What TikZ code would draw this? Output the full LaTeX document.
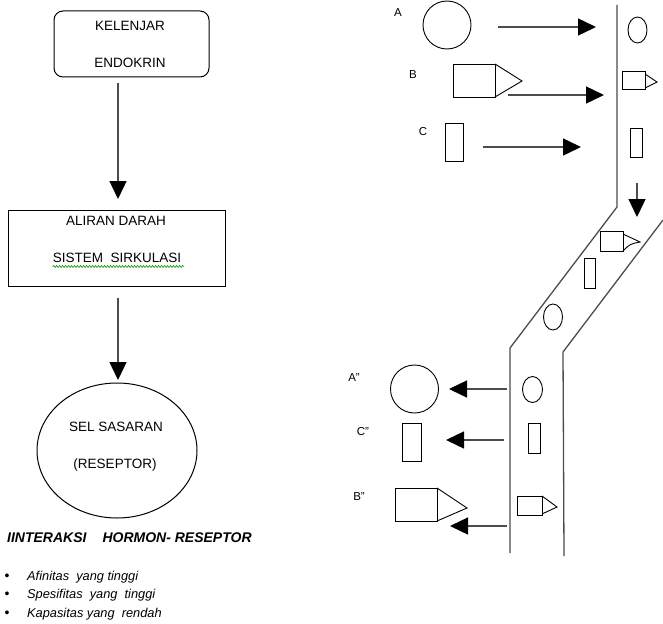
\documentclass[tikz,border=0pt]{standalone}
\usepackage{fontspec}
\setmainfont{Liberation Sans}
\usetikzlibrary{arrows.meta,decorations.pathmorphing,shapes.geometric}
\begin{document}
\begin{tikzpicture}[x=1pt,y=-1pt,
  flow/.style={draw=black!70,line width=1.4pt,-{Triangle[length=18pt,width=17pt,black]}},
  vessel/.style={draw=black!70,line width=1.3pt},
  shp/.style={draw=black,line width=0.9pt},
  boxtxt/.style={font=\fontsize{13.5}{15}\selectfont,inner sep=0pt},
  lbl/.style={font=\fontsize{11.5}{13}\selectfont,inner sep=0pt},
  bul/.style={font=\fontsize{12.8}{15}\selectfont\itshape,inner sep=0pt,anchor=west}]
\useasboundingbox (0,0) rectangle (663,623);
% ---------- left column ----------
\node[draw,line width=1pt,rounded corners=9pt,minimum width=155pt,minimum height=66pt] (kel) at (131.5,44) {};
\node[boxtxt] (kel1) at (130,26) {KELENJAR};
\node[boxtxt] (kel2) at (130,63) {ENDOKRIN};
\node[draw,line width=1pt,minimum width=217pt,minimum height=76pt] (alir) at (116.5,248) {};
\node[boxtxt] (alir1) at (116,221) {ALIRAN DARAH};
\node[boxtxt] (alir2) at (117,258) {SISTEM\ \ SIRKULASI};
\draw[green!60!black,line width=0.6pt,decorate,decoration={snake,amplitude=1pt,segment length=3pt}] (alir2.south west)++(0,3.5) -- ++(131,0);
\node[draw,line width=1pt,ellipse,minimum width=160pt,minimum height=135pt] (sel) at (117,450.5) {};
\node[boxtxt] (sel1) at (116,427) {SEL SASARAN};
\node[boxtxt] (sel2) at (115,465) {(RESEPTOR)};
\coordinate (a1s) at (118,83);
\coordinate (a1e) at (118,199);
\coordinate (a2s) at (118,298);
\coordinate (a2e) at (118,380);
\draw[flow] (a1s) -- (a1e);
\draw[flow] (a2s) -- (a2e);
\node[font=\fontsize{14}{16}\selectfont\bfseries\itshape,inner sep=0pt,anchor=west] (inter) at (7,538) {IINTERAKSI\hspace{16pt}HORMON- RESEPTOR};
\node[bul] (b1) at (27,577) {Afinitas\ \ yang tinggi};
\node[bul] (b2) at (27,595) {Spesifitas\ \ yang\ \ tinggi};
\node[bul] (b3) at (27,614) {Kapasitas yang\ \ rendah};
\foreach \y/\n in {577/d1,595/d2,614/d3}
  \node[inner sep=0pt,font=\fontsize{14}{16}\selectfont] (\n) at (7,\y) {•};
% ---------- right: incoming ----------
\node[lbl] (la) at (398,13) {A};
\node[lbl] (lb) at (413,75) {B};
\node[lbl] (lc) at (423,132) {C};
\node[draw,circle,line width=0.9pt,minimum size=48pt,inner sep=0pt] (ca) at (447,25) {};
\draw[shp] (453,64) rectangle (495,97);
\draw[shp] (495,64) -- (522,81) -- (495,97);
\draw[shp] (445,123) rectangle (463,161);
\coordinate (aas) at (498,27); \coordinate (aae) at (596,27);
\coordinate (abs) at (508,95); \coordinate (abe) at (604,95);
\coordinate (acs) at (483,147); \coordinate (ace) at (581,147);
\draw[flow] (aas) -- (aae);
\draw[flow] (abs) -- (abe);
\draw[flow] (acs) -- (ace);
% ---------- vessel ----------
\draw[vessel] (617,5) -- (617,207) -- (510,348) -- (510,553);
\draw[vessel] (663,220) -- (563,352) -- (564,556);
\coordinate (dvs) at (637,183); \coordinate (dve) at (637,217);
\draw[flow] (dvs) -- (dve);
% shapes in vessel (top)
\draw[shp] (637.5,30) ellipse (9.5pt and 13pt);
\draw[shp] (622,71) rectangle (645,89);
\draw[shp] (645,74) -- (657,82) -- (645,88);
\draw[shp] (630,128) rectangle (642,157);
% shapes in diagonal
\draw[shp] (600,231) rectangle (623,251);
\draw[shp] (623,234) -- (640,242) .. controls (630,244) .. (623,251);
\draw[shp] (584,258) rectangle (595,288);
\draw[shp] (553,317) ellipse (9.5pt and 13pt);
% shapes in vessel (bottom)
\draw[shp] (532.5,389.5) ellipse (10pt and 13pt);
\draw[shp] (528,423) rectangle (540,453);
\draw[shp] (517,496) rectangle (542,515);
\draw[shp] (542,496) -- (557,507) -- (542,514);
% ---------- right: outgoing ----------
\node[lbl] (la2) at (354,378) {A"};
\node[lbl] (lc2) at (363,432) {C"};
\node[lbl] (lb2) at (359,497) {B"};
\node[draw,circle,line width=0.9pt,minimum size=48pt,inner sep=0pt] (ca2) at (414.5,389) {};
\draw[shp] (402,423) rectangle (421,461);
\draw[shp] (395,488) rectangle (437,521);
\draw[shp] (437,488) -- (467,508) -- (437,521);
\coordinate (oas) at (507,389); \coordinate (oae) at (449,389);
\coordinate (ocs) at (504,440); \coordinate (oce) at (446,440);
\coordinate (obs) at (507,526); \coordinate (obe) at (450,526);
\draw[flow] (oas) -- (oae);
\draw[flow] (ocs) -- (oce);
\draw[flow] (obs) -- (obe);
\end{tikzpicture}
\end{document}
